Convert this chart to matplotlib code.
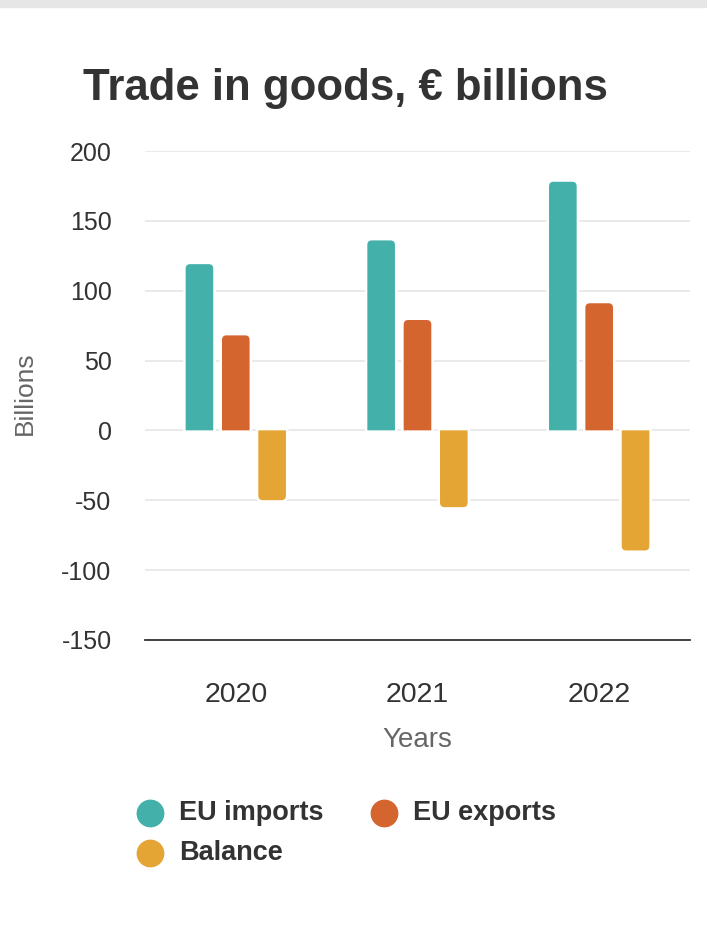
import matplotlib
matplotlib.use("Agg")
import matplotlib.pyplot as plt
import numpy as np
from matplotlib.patches import Rectangle, PathPatch
from matplotlib.path import Path

years = ["2020", "2021", "2022"]
imports = [119, 136, 178]
exports = [68, 79, 91]
balance = [-50, -55, -86]
series_names = ["EU imports", "EU exports", "Balance"]
colors = ["#43b0a9", "#d5652f", "#e5a535"]
yticks = [-150, -100, -50, 0, 50, 100, 150, 200]

plt.rcParams['font.family'] = ['Liberation Sans', 'DejaVu Sans']

W, H = 707, 930
fig = plt.figure(figsize=(W / 100, H / 100), dpi=100)
fig.patches.append(Rectangle((0, 0.992), 1, 0.008, transform=fig.transFigure,
                             color="#e6e6e6", zorder=0))
ax_pos = [0.205, 0.312, 0.771, 0.5256]
ax = fig.add_axes(ax_pos)

ymin, ymax = -150, 200
xmin, xmax = -0.5, 2.5
ax.set_xlim(xmin, xmax)
ax.set_ylim(ymin, ymax)

px_x = ax_pos[2] * W / (xmax - xmin)
px_y = ax_pos[3] * H / (ymax - ymin)


def bar_path(xc, w, v, r_px=4.5):
    x0, x1 = xc - w / 2, xc + w / 2
    rx = r_px / px_x
    ry = r_px / px_y * np.sign(v)
    verts = [(x0, 0), (x0, v - ry), (x0, v), (x0 + rx, v), (x1 - rx, v),
             (x1, v), (x1, v - ry), (x1, 0), (x0, 0)]
    codes = [Path.MOVETO, Path.LINETO, Path.CURVE3, Path.CURVE3, Path.LINETO,
             Path.CURVE3, Path.CURVE3, Path.LINETO, Path.CLOSEPOLY]
    return Path(verts, codes)


def rounded_bar(ax, xc, w, v, color):
    path = bar_path(xc, w, v)
    ax.add_patch(PathPatch(path, facecolor="white", edgecolor="white",
                           linewidth=3.6, zorder=2.5))
    ax.add_patch(PathPatch(path, facecolor=color, edgecolor="none",
                           linewidth=0, zorder=3))


x = np.arange(len(years))
width = 0.152
step = 0.2
for i, (vals, c) in enumerate(zip([imports, exports, balance], colors)):
    for xi, v in zip(x, vals):
        rounded_bar(ax, xi + (i - 1) * step, width, v, c)

ax.set_yticks(yticks)
ax.set_yticklabels([str(v) for v in yticks], fontsize=18, color="#333333")
ax.set_xticks(x)
ax.set_xticklabels(years, fontsize=20.5, color="#333333")
ax.tick_params(axis='both', length=0)
ax.tick_params(axis='y', pad=24)
ax.tick_params(axis='x', pad=30)
ax.grid(axis='y', color="#e6e6e6", linewidth=1.2, zorder=0)
ax.set_axisbelow(True)
for s in ["top", "right", "left"]:
    ax.spines[s].set_visible(False)
ax.spines["bottom"].set_color("#333333")
ax.spines["bottom"].set_linewidth(1.3)
ax.spines["bottom"].set_zorder(4)
ax.set_ylabel("Billions", fontsize=19, color="#666666", va="center")
ax.yaxis.set_label_coords(-0.22, 0.505)
ax.set_xlabel("Years", fontsize=20, color="#666666", va="center")
ax.xaxis.set_label_coords(0.5, -0.204)

fig.text(0.489, 1 - 100 / H, "Trade in goods, € billions", ha="center",
         va="baseline", fontsize=31.5, fontweight="bold", color="#333333")

# legend
leg_items = [(150, 813, 179, 0), (384, 813, 413, 1), (150, 853, 179, 2)]
for cx, cy, tx, i in leg_items:
    fig.add_artist(plt.Line2D([cx / W], [1 - cy / H], marker="o", markersize=19,
                              color=colors[i], transform=fig.transFigure))
    fig.text(tx / W, 1 - cy / H, series_names[i], ha="left", va="center",
             fontsize=19.5, fontweight="bold", color="#333333")

fig.savefig("out.png", dpi=100, facecolor="white")
